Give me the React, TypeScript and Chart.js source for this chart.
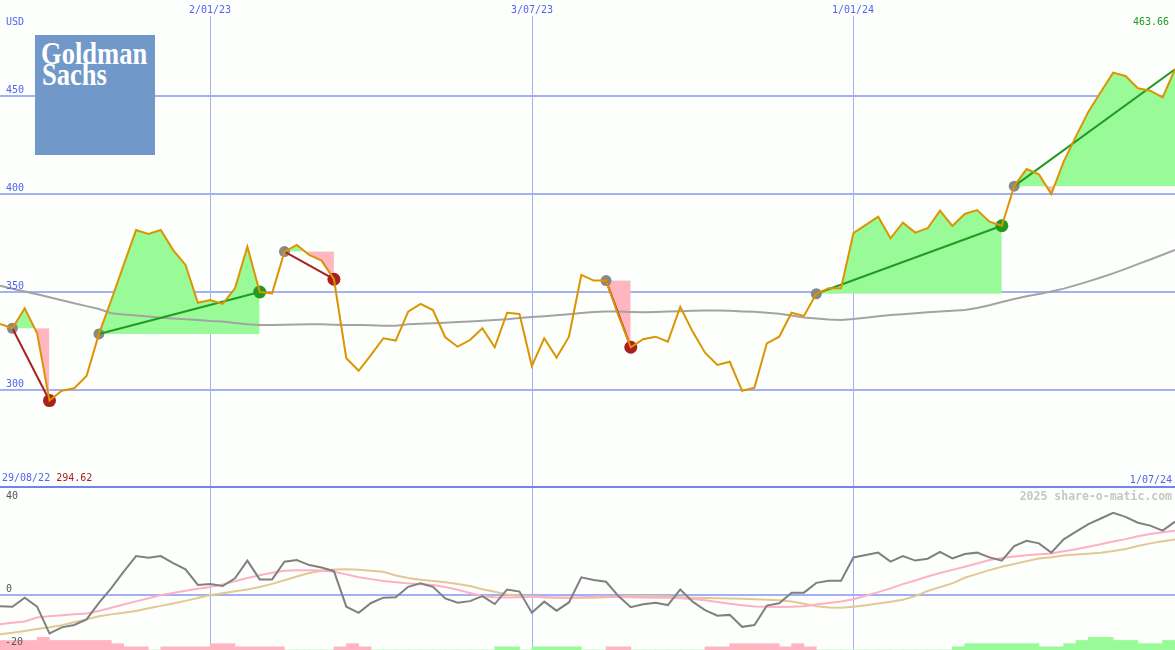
import React, { useEffect, useRef } from 'react';
import { Chart, registerables } from 'chart.js';

Chart.register(...registerables);

// ---------- data ----------
const startLabel = '29/08/22';
const endLabel = '1/07/24';
const currencyLabel = 'USD';
const watermark = '2025 share-o-matic.com';
const logoLine1 = 'Goldman';
const logoLine2 = 'Sachs';

const dateTickIndex = [17, 43, 69];
const dateTickLabels = ['2/01/23', '3/07/23', '1/01/24'];
const priceTicks = [300, 350, 400, 450];
const oscTicks = [40, 0, -20];

// weekly closing prices
const price = [
  333.7, 331.5, 341.7, 328.9, 294.62, 299.6, 300.9, 307.1, 328.6, 345.9,
  363.8, 381.6, 379.6, 381.6, 371.4, 363.8, 344.5, 345.9, 343.9, 351.9,
  373.1, 350.0, 349.3, 370.6, 374.0, 368.9, 366.0, 356.5, 316.2, 309.8,
  317.9, 326.4, 325.2, 340.0, 343.9, 340.8, 326.9, 322.1, 325.5, 331.5,
  321.8, 339.4, 338.8, 312.2, 326.4, 316.5, 327.2, 358.7, 355.8, 355.8,
  338.0, 321.8, 325.9, 327.2, 324.7, 342.5, 329.8, 319.0, 312.8, 314.4,
  299.6, 301.2, 323.8, 327.2, 339.4, 337.8, 349.1, 351.9, 351.9, 380.0,
  384.2, 388.4, 377.4, 385.4, 380.3, 382.5, 391.5, 383.7, 389.8, 391.8,
  385.9, 383.8, 404.0, 412.7, 410.0, 400.0, 416.5, 429.5, 442.0, 452.0,
  461.9, 460.2, 453.9, 452.7, 449.3, 463.66,
];

// long moving average
const movingAvg = [
  353.2, 351.7, 350.2, 348.8, 347.3, 345.8, 344.3, 342.8, 341.3, 339.2,
  338.5, 338.0, 337.5, 336.9, 336.5, 336.1, 335.7, 335.2, 334.9, 334.2,
  333.5, 333.2, 333.2, 333.3, 333.4, 333.6, 333.5, 333.3, 333.2, 333.1,
  333.0, 332.8, 332.8, 333.5, 333.8, 334.0, 334.3, 334.7, 335.0, 335.3,
  335.7, 336.1, 336.7, 337.2, 337.6, 338.1, 338.7, 339.3, 339.8, 340.0,
  340.0, 339.8, 339.6, 339.8, 340.0, 340.2, 340.4, 340.5, 340.5, 340.4,
  340.1, 339.9, 339.4, 338.9, 338.0, 337.0, 336.5, 336.0, 335.7, 336.2,
  336.9, 337.6, 338.2, 338.7, 339.2, 339.6, 340.0, 340.4, 340.8, 341.8,
  343.2, 344.9, 346.4, 347.8, 349.0, 350.3, 351.7, 353.5, 355.4, 357.4,
  359.5, 361.8, 364.2, 366.6, 369.0, 371.5,
];

// signal trades (index of entry / exit)
const tradeStart = [1, 8, 23, 49, 66, 82];
const tradeEnd = [4, 21, 27, 51, 81, 95];
const tradeOpen = [false, false, false, false, false, true];

// oscillator panel
const oscMain = [
  -4.2, -4.4, -1.0, -4.4, -14.5, -12.2, -11.3, -9.2, -3.0, 2.6,
  8.8, 14.7, 14.1, 14.7, 12.0, 9.7, 3.8, 4.2, 3.4, 6.3,
  13.0, 5.9, 5.9, 12.6, 13.2, 11.3, 10.4, 9.0, -4.4, -6.7,
  -3.0, -1.0, -0.8, 3.1, 4.4, 3.1, -1.3, -2.9, -2.3, -0.4,
  -3.4, 2.1, 1.3, -6.7, -2.5, -5.9, -2.8, 6.7, 5.7, 5.0,
  -0.4, -4.6, -3.5, -2.9, -3.8, 2.1, -2.5, -5.7, -7.8, -7.5,
  -12.0, -11.3, -4.0, -3.1, 0.9, 0.9, 4.6, 5.4, 5.4, 14.2,
  15.1, 16.0, 12.6, 14.7, 13.0, 13.7, 16.3, 13.8, 15.5, 16.0,
  14.2, 13.0, 18.5, 20.5, 19.5, 16.0, 21.0, 23.9, 26.8, 28.9,
  31.0, 29.5, 27.3, 26.2, 24.3, 27.7,
];
const oscPink = [
  -11, -10.5, -10, -8.5, -8, -7.6, -7.3, -7, -6, -4.8,
  -3.6, -2.4, -1.2, 0, 0.8, 1.6, 2.4, 3, 4, 5.2,
  6.4, 7.5, 8.4, 9.2, 9.4, 9.4, 9.3, 8.8, 7.8, 6.7,
  6, 5.3, 4.8, 4.4, 4.1, 3.8, 3.0, 2.0, 0.8, -0.4,
  -0.8, -0.9, -0.8, -0.6, -0.7, -0.9, -1.0, -0.8, -0.6, -0.6,
  -0.7, -0.8, -0.9, -1.0, -1.0, -1.2, -1.5, -2.0, -2.6, -3.3,
  -3.9, -4.3, -4.4, -4.5, -4.4, -4.2, -3.6, -3.0, -2.4, -1.6,
  -0.3, 1.1, 2.5, 4.1, 5.5, 7.0, 8.3, 9.5, 10.7, 11.9,
  13.2, 14.0, 14.5, 15.0, 15.4, 15.7, 16.5, 17.3, 18.2, 19.2,
  20.2, 21.1, 22.2, 23.0, 23.7, 24.3,
];
const oscTan = [
  -14.8, -14.2, -13.6, -12.8, -12.2, -11.4, -10.3, -9.2, -8.0, -7.3,
  -6.7, -6.0, -5.0, -4.1, -3.2, -2.2, -1.1, 0, 0.7, 1.4,
  2.1, 3.0, 4.2, 5.6, 7.0, 8.3, 9.2, 9.6, 9.7, 9.5,
  9.2, 8.8, 7.4, 6.4, 5.8, 5.3, 4.8, 4.2, 3.4, 2.2,
  1.2, 0.2, -0.3, -0.6, -0.9, -1.0, -1.0, -1.0, -1.0, -0.8,
  -0.6, -0.4, -0.4, -0.4, -0.5, -0.8, -1.0, -1.1, -1.2, -1.3,
  -1.4, -1.6, -1.8, -2.0, -2.4, -3.3, -4.2, -4.7, -4.8, -4.4,
  -3.9, -3.2, -2.5, -1.8, -0.4, 1.5, 3.0, 4.4, 6.5, 8.0,
  9.4, 10.7, 11.7, 12.8, 13.8, 14.3, 14.9, 15.3, 15.6, 16.0,
  16.6, 17.4, 18.5, 19.5, 20.3, 21.0,
];
// histogram blocks (between consecutive weeks)
const oscHist = [
  -3.6, -3.6, -3.6, -4.8, -3.6, -3.6, -3.6, -3.6, -3.6, -2.4,
  -1.2, -1.2, 0, -1.2, -1.2, -1.2, -1.2, -2.4, -2.4, -1.2,
  -1.2, -1.2, -1.2, 0, 0, 0, 0, -1.2, -2.4, -1.2,
  0, 0, 0, 0, 0, 0, 0, 0, 0, 0,
  1.2, 1.2, 0, 1.2, 1.2, 1.2, 1.2, 0, 0, -1.2,
  -1.2, 0, 0, 0, 0, 0, 0, -1.2, -1.2, -2.4,
  -2.4, -2.4, -2.4, -1.2, -2.4, -1.2, 0, 0, 0, 0,
  0, 0, 0, 0, 0, 0, 0, 1.2, 2.4, 2.4,
  2.4, 2.4, 2.4, 2.4, 1.2, 1.2, 2.4, 3.6, 4.8, 4.8,
  3.6, 3.6, 2.4, 2.4, 3.6,
];

// ---------- styles ----------
const WIDTH = 1175;
const TOP_HEIGHT = 488;
const BOTTOM_HEIGHT = 162;
const PRICE_MIN = 250;
const PRICE_MAX = 490.8;
const OSC_MIN = -20.75;
const OSC_MAX = 40.4;

const BG = '#fdfffd';
const GRID = '#a3b1f3';
const SEPARATOR = '#7282ee';
const LABEL_BLUE = '#5462f0';
const PRICE_COLOR = '#dc9400';
const MA_COLOR = '#a3a3a3';
const FILL_GREEN = '#98fb98';
const FILL_PINK = '#ffb6c1';
const WIN = '#229a22';
const LOSS = '#aa2020';
const ENTRY_DOT = '#888888';
const LABEL_FONT = '10px "DejaVu Sans Mono", monospace';

const pts = (arr: number[], from = 0) => arr.map((y, i) => ({ x: i + from, y }));

const topDecor = {
  id: 'topDecor',
  beforeDatasetsDraw(chart: any) {
    const { ctx, chartArea, scales } = chart;
    const x = scales.x;
    const y = scales.y;
    ctx.save();
    ctx.fillStyle = GRID;
    priceTicks.forEach((v) => {
      const py = Math.round(y.getPixelForValue(v));
      ctx.fillRect(0, py - 1, chart.width, 2);
    });
    dateTickIndex.forEach((i) => {
      const px = Math.round(x.getPixelForValue(i));
      ctx.fillRect(px, chartArea.top, 1, chartArea.bottom - chartArea.top);
    });
    ctx.restore();
  },
  afterDraw(chart: any) {
    const { ctx, scales } = chart;
    const x = scales.x;
    const y = scales.y;
    ctx.save();
    ctx.font = LABEL_FONT;
    ctx.textBaseline = 'alphabetic';
    ctx.fillStyle = LABEL_BLUE;
    ctx.textAlign = 'left';
    ctx.fillText(currencyLabel, 6, 25);
    priceTicks.forEach((v) => {
      ctx.fillText(String(v), 6, Math.round(y.getPixelForValue(v)) - 3);
    });
    ctx.textAlign = 'center';
    dateTickIndex.forEach((i, k) => {
      ctx.fillText(dateTickLabels[k], Math.round(x.getPixelForValue(i)), 13);
    });
    // last price
    ctx.textAlign = 'right';
    ctx.fillStyle = WIN;
    ctx.fillText(price[price.length - 1].toFixed(2), 1169, 25);
    // bottom labels
    const baseY = Math.round(y.getPixelForValue(PRICE_MIN));
    ctx.fillStyle = LABEL_BLUE;
    ctx.fillText(endLabel, 1172, baseY - 5);
    ctx.textAlign = 'left';
    const startText = startLabel + ' ';
    ctx.fillText(startText, 2, baseY - 7);
    ctx.fillStyle = LOSS;
    ctx.fillText(Math.min(...price).toFixed(2), 2 + ctx.measureText(startText).width, baseY - 7);
    // separator
    ctx.fillStyle = SEPARATOR;
    ctx.fillRect(0, baseY - 2, chart.width, 2);
    ctx.restore();
  },
};

const bottomDecor = {
  id: 'bottomDecor',
  beforeDatasetsDraw(chart: any) {
    const { ctx, chartArea, scales } = chart;
    const x = scales.x;
    const y = scales.y;
    ctx.save();
    ctx.fillStyle = GRID;
    dateTickIndex.forEach((i) => {
      const px = Math.round(x.getPixelForValue(i));
      ctx.fillRect(px, chartArea.top, 1, chartArea.bottom - chartArea.top);
    });
    const py0 = Math.round(y.getPixelForValue(0));
    ctx.fillRect(0, py0 - 1, chart.width, 2);
    ctx.restore();
  },
  afterDraw(chart: any) {
    const { ctx, scales } = chart;
    const y = scales.y;
    ctx.save();
    ctx.font = LABEL_FONT;
    ctx.fillStyle = '#555555';
    ctx.textAlign = 'left';
    oscTicks.forEach((v) => {
      const py = Math.round(y.getPixelForValue(v));
      ctx.fillText(String(v), v < 0 ? 5 : 6, Math.max(py - 3, 11));
    });
    ctx.font = 'bold 11.5px "DejaVu Sans Mono", monospace';
    ctx.fillStyle = '#c6c6c6';
    ctx.textAlign = 'right';
    ctx.fillText(watermark, 1172, 12);
    ctx.restore();
  },
};

export default function App() {
  const topRef = useRef<HTMLCanvasElement>(null);
  const bottomRef = useRef<HTMLCanvasElement>(null);

  useEffect(() => {
    const datasets: any[] = [];
    tradeStart.forEach((s, k) => {
      const e = tradeEnd[k];
      const seg = price.slice(s, e + 1).map((y, j) => ({ x: s + j, y }));
      datasets.push({
        type: 'line',
        data: seg,
        borderWidth: 0,
        borderColor: 'rgba(0,0,0,0)',
        pointRadius: 0,
        tension: 0,
        fill: { target: { value: price[s] }, above: FILL_GREEN, below: FILL_PINK },
        order: 6,
      });
    });
    datasets.push({
      type: 'line',
      data: pts(movingAvg),
      borderColor: MA_COLOR,
      borderWidth: 2,
      pointRadius: 0,
      tension: 0,
      fill: false,
      order: 5,
    });
    tradeStart.forEach((s, k) => {
      const e = tradeEnd[k];
      const win = price[e] >= price[s];
      datasets.push({
        type: 'line',
        data: [
          { x: s, y: price[s] },
          { x: e, y: price[e] },
        ],
        borderColor: win ? WIN : LOSS,
        borderWidth: 2,
        pointRadius: 0,
        tension: 0,
        fill: false,
        order: 3,
      });
    });
    datasets.push({
      type: 'line',
      data: tradeStart.map((s) => ({ x: s, y: price[s] })),
      showLine: false,
      pointRadius: 5.5,
      pointBorderWidth: 0,
      pointBackgroundColor: ENTRY_DOT,
      fill: false,
      order: 4,
    });
    const closed = tradeEnd.filter((_, k) => !tradeOpen[k]);
    datasets.push({
      type: 'line',
      data: closed.map((e) => ({ x: e, y: price[e] })),
      showLine: false,
      pointRadius: 6.5,
      pointBorderWidth: 0,
      pointBackgroundColor: tradeEnd
        .map((e, k) => ({ e, k }))
        .filter(({ k }) => !tradeOpen[k])
        .map(({ e, k }) => (price[e] >= price[tradeStart[k]] ? WIN : LOSS)),
      fill: false,
      order: 4,
    });
    datasets.push({
      type: 'line',
      data: pts(price),
      borderColor: PRICE_COLOR,
      borderWidth: 2,
      pointRadius: 0,
      tension: 0,
      fill: false,
      order: 1,
    });

    const common = {
      animation: false as const,
      responsive: false,
      maintainAspectRatio: false,
      devicePixelRatio: 1,
      events: [] as any[],
      plugins: { legend: { display: false }, tooltip: { enabled: false } },
    };

    const top = new Chart(topRef.current as HTMLCanvasElement, {
      type: 'line',
      data: { datasets },
      options: {
        ...common,
        layout: { autoPadding: false, padding: { top: 16, left: 0, right: 0, bottom: 0 } },
        scales: {
          x: { type: 'linear', min: 0, max: price.length - 1, display: false, offset: false },
          y: { type: 'linear', min: PRICE_MIN, max: PRICE_MAX, display: false },
        },
      } as any,
      plugins: [topDecor],
    });

    const bottom = new Chart(bottomRef.current as HTMLCanvasElement, {
      type: 'line',
      data: {
        datasets: [
          {
            type: 'bar',
            data: oscHist.map((v, i) => ({ x: i + 0.5, y: [OSC_MIN, OSC_MIN + Math.abs(v)] })),
            backgroundColor: oscHist.map((v) => (v >= 0 ? FILL_GREEN : FILL_PINK)),
            borderWidth: 0,
            barPercentage: 1,
            categoryPercentage: 1,
            order: 10,
          },
          {
            type: 'line',
            data: pts(oscTan),
            borderColor: '#e2c894',
            borderWidth: 2,
            pointRadius: 0,
            tension: 0,
            order: 4,
          },
          {
            type: 'line',
            data: pts(oscPink),
            borderColor: '#ffb0c4',
            borderWidth: 2,
            pointRadius: 0,
            tension: 0,
            order: 3,
          },
          {
            type: 'line',
            data: pts(oscMain),
            borderColor: '#808080',
            borderWidth: 2,
            pointRadius: 0,
            tension: 0,
            order: 1,
          },
        ] as any,
      },
      options: {
        ...common,
        layout: { autoPadding: false, padding: 0 },
        scales: {
          x: { type: 'linear', min: 0, max: price.length - 1, display: false, offset: false },
          y: { type: 'linear', min: OSC_MIN, max: OSC_MAX, display: false },
        },
      } as any,
      plugins: [bottomDecor],
    });

    return () => {
      top.destroy();
      bottom.destroy();
    };
  }, []);

  const logoText: React.CSSProperties = {
    position: 'absolute',
    fontFamily: '"Liberation Serif", "DejaVu Serif", serif',
    fontWeight: 700,
    fontSize: 32,
    lineHeight: '32px',
    color: '#ffffff',
    transform: 'scaleX(0.83)',
    transformOrigin: 'left top',
    whiteSpace: 'nowrap',
  };

  return (
    <div
      style={{
        position: 'fixed',
        left: 0,
        top: 0,
        width: WIDTH,
        height: TOP_HEIGHT + BOTTOM_HEIGHT,
        background: BG,
        overflow: 'hidden',
      }}
    >
      <canvas
        ref={topRef}
        width={WIDTH}
        height={TOP_HEIGHT}
        style={{ position: 'absolute', left: 0, top: 0, width: WIDTH, height: TOP_HEIGHT }}
      />
      <canvas
        ref={bottomRef}
        width={WIDTH}
        height={BOTTOM_HEIGHT}
        style={{ position: 'absolute', left: 0, top: TOP_HEIGHT, width: WIDTH, height: BOTTOM_HEIGHT }}
      />
      <div
        style={{
          position: 'absolute',
          left: 35,
          top: 35,
          width: 120,
          height: 120,
          background: '#7099c9',
        }}
      >
        <div style={{ ...logoText, left: 6, top: 1.5 }}>{logoLine1}</div>
        <div style={{ ...logoText, left: 6.5, top: 23.2 }}>{logoLine2}</div>
      </div>
    </div>
  );
}
